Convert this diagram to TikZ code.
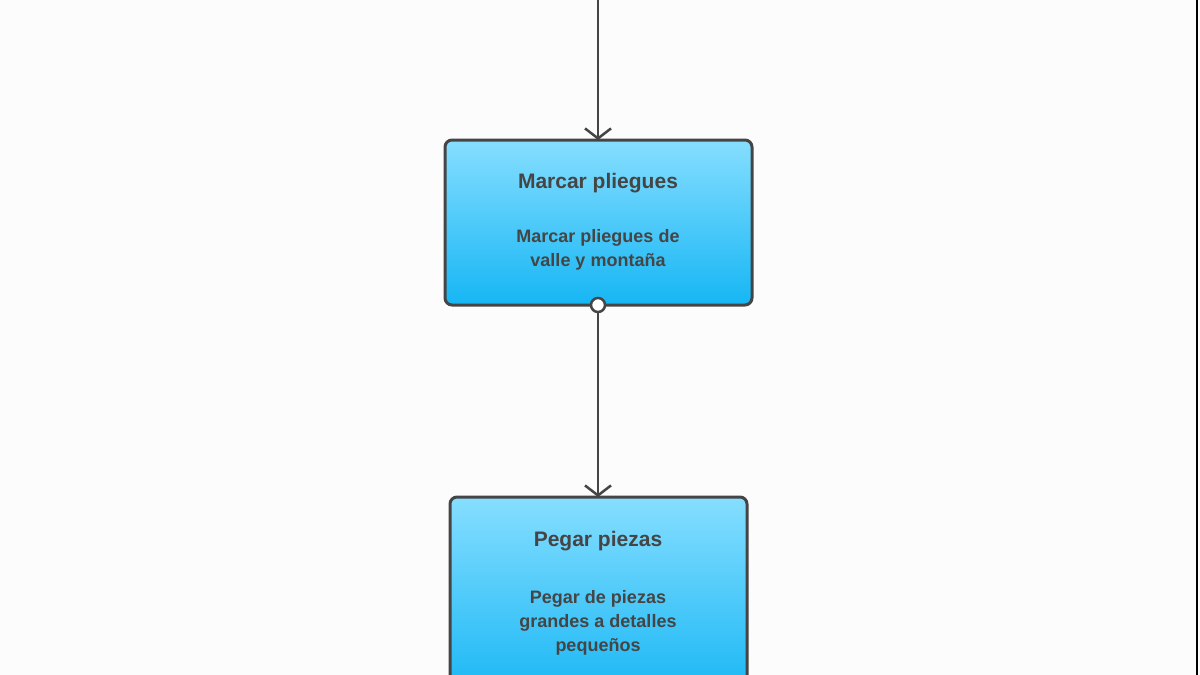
\documentclass[tikz,border=0pt]{standalone}
\usepackage{fontspec}
\setmainfont{Liberation Sans}
\usetikzlibrary{arrows.meta}
\definecolor{ink}{HTML}{454545}
\definecolor{topc}{HTML}{86DEFF}
\definecolor{botc}{HTML}{16B6F4}
\tikzset{
 box/.style={draw=ink,line width=3pt,rounded corners=7pt,top color=topc,bottom color=botc},
 ttl/.style={text=ink,font=\bfseries\fontsize{21}{25}\selectfont},
 bod/.style={text=ink,font=\bfseries\fontsize{18}{24}\selectfont,align=center},
 conn/.style={draw=ink,line width=2.5pt,-{Straight Barb[length=10pt,width=26pt,line width=2.5pt]}}
}
\begin{document}
\begin{tikzpicture}[x=1pt,y=-1pt]
\useasboundingbox (0,0) rectangle (1200,675);
\clip (0,0) rectangle (1200,675);
\fill[white!99!black] (0,0) rectangle (1200,675);
\draw[black,line width=2pt] (1197,0) -- (1197,675);
\coordinate (top) at (598,0);
\draw[box] (445,140) rectangle (752,305);
\node (b1) at (598,222) {};
\coordinate (b1n) at (598,140);
\coordinate (b1s) at (598,305);
\node[ttl] (t1) at (598,183) {Marcar pliegues};
\node[bod] (d1) at (598,250) {Marcar pliegues de\\valle y montaña};
\draw[box] (450,497) rectangle (747,700);
\coordinate (b2n) at (598,497);
\node[ttl] (t2) at (598,541) {Pegar piezas};
\node[bod] (d2) at (598,623) {Pegar de piezas\\grandes a detalles\\pequeños};
\draw[conn] (top) -- (b1n);
\draw[conn] (b1s) -- (b2n);
\draw[ink,line width=2.5pt,fill=white] (b1s) circle (7pt);
\end{tikzpicture}
\end{document}
